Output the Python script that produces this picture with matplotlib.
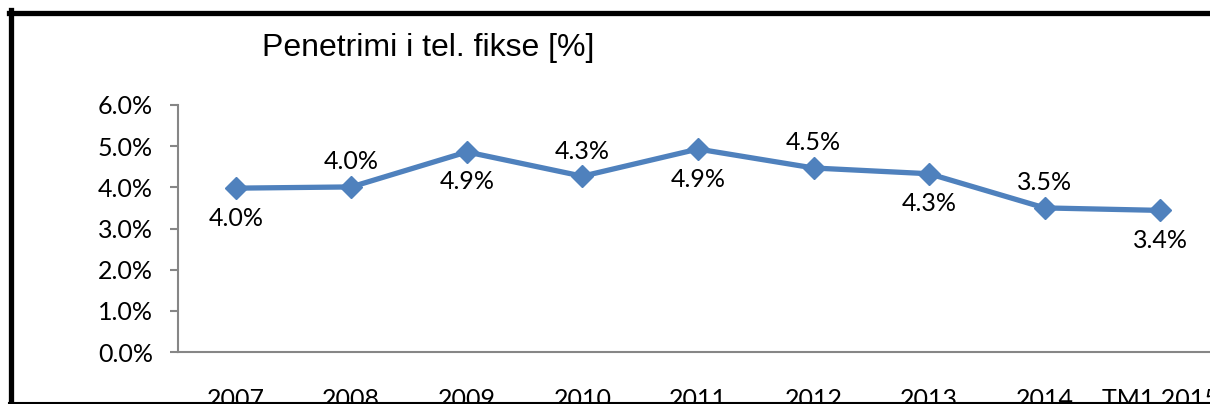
import matplotlib.pyplot as plt
from matplotlib.lines import Line2D
from matplotlib.ticker import FuncFormatter

categories = ["2007", "2008", "2009", "2010", "2011", "2012", "2013", "2014", "TM1 2015"]
penetration = [3.98, 4.01, 4.86, 4.27, 4.93, 4.47, 4.33, 3.50, 3.44]
label_above = [False, True, False, True, False, True, False, True, False]

W, H = 1210, 404
fig = plt.figure(figsize=(W / 100, H / 100), dpi=100)
ax = fig.add_axes([178 / W, (H - 352) / H, (1218 - 178) / W, (352 - 105) / H])

x = list(range(len(categories)))
ax.plot(x, penetration, color="#4F81BD", linewidth=3.8, marker="D",
        markersize=11, markerfacecolor="#4F81BD", markeredgecolor="#4F81BD",
        clip_on=False)

for xi, v, up in zip(x, penetration, label_above):
    ax.annotate(f"{v:.1f}%", (xi, v), xytext=(0, 25 if up else -30),
                textcoords="offset pixels", ha="center", va="center",
                fontsize=18, family=["Lato", "DejaVu Sans"])

ax.set_xlim(-0.5, len(categories) - 0.5)
ax.set_ylim(0, 6)
ax.set_yticks([0, 1, 2, 3, 4, 5, 6])
ax.yaxis.set_major_formatter(FuncFormatter(lambda v, p: f"{v:.1f}%"))
ax.set_xticks(x)
ax.set_xticklabels(categories)

for side in ["top", "right"]:
    ax.spines[side].set_visible(False)
for side in ["left", "bottom"]:
    ax.spines[side].set_color("#868686")
    ax.spines[side].set_linewidth(1.5)
ax.tick_params(axis="y", direction="out", length=6, width=1.5, color="#868686",
               pad=12, labelsize=18)
ax.tick_params(axis="x", length=0, pad=26, labelsize=18)
for lbl in ax.get_xticklabels() + ax.get_yticklabels():
    lbl.set_family(["Lato", "DejaVu Sans"])

fig.text(262 / W, 1 - 48 / H, "Penetrimi i tel. fikse [%]", fontsize=23,
         family="Liberation Sans", ha="left", va="center")

# chart frame
fig.add_artist(Line2D([9 / W, 1], [1 - 12.5 / H, 1 - 12.5 / H], color="black", linewidth=3.8))
fig.add_artist(Line2D([11.5 / W, 11.5 / W], [0, 1 - 10 / H], color="black", linewidth=3.8))
fig.add_artist(Line2D([9 / W, 1], [1.5 / H, 1.5 / H], color="black", linewidth=1.5))

plt.savefig("out.png", dpi=100)
